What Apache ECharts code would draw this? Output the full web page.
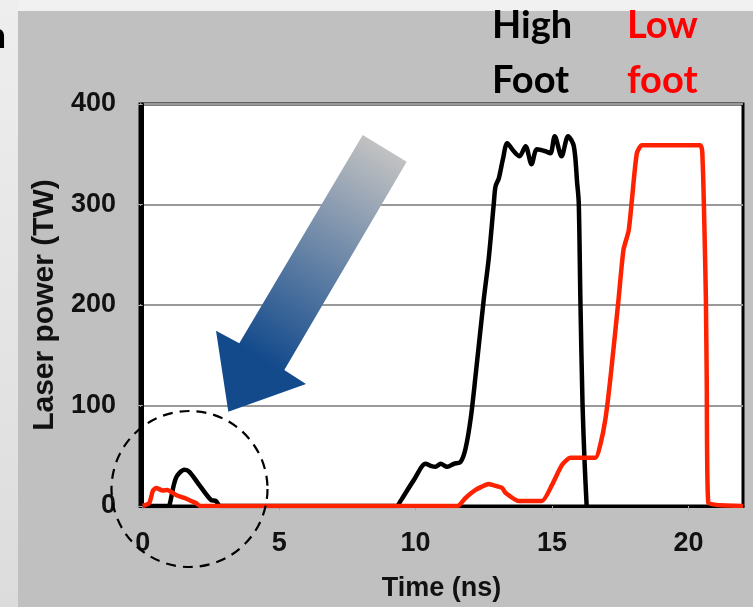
<!DOCTYPE html>
<html><head><meta charset="utf-8">
<script src="https://cdn.jsdelivr.net/npm/echarts@6/dist/echarts.min.js"></script>
<style>html,body{margin:0;padding:0;}#c{width:753px;height:607px;}</style>
</head><body><div id="c"></div>
<script>
// Time (ns) / Laser power (TW)
const highFootT = [0,0.95,1.0,1.22,1.53,1.71,2.07,2.5,2.68,2.85,9.3,9.45,9.52,9.94,10.37,10.55,10.73,10.92,11.16,11.4,11.65,11.83,12.02,12.2,12.5,12.68,12.87,12.93,13.05,13.2,13.36,13.6,13.81,14.03,14.25,14.45,14.76,14.94,15.1,15.35,15.59,15.8,15.92,15.98,16.04,16.12,16.2,16.27];
const highFootP = [0,0,3,28,36,34,21,6,5,0,0,5,8,26,42,40,39,42,39,42,44,57,87,130,206,246,302,318,326,345,361,353,348,358,340,355,353,351,368,348,368,358,322,302,206,100,40,0];
const lowFootT = [0,0.24,0.37,0.49,0.73,0.9,1.22,1.53,1.77,1.95,2.1,11.53,11.83,12.2,12.57,12.69,12.81,13.17,13.3,13.78,14.63,15.0,15.37,15.68,16.59,16.77,16.96,17.14,17.44,17.62,17.81,17.93,18.11,18.3,20.43,20.52,20.59,20.64,20.67,20.73,22];
const lowFootP = [0,3,15,18,15.5,16,11,8,5,3,0,0,8,16,21,22,21,18,13,5,5,21,41,48,48,61,87,127,206,255,274,305,351,359,359,343,272,206,127,3,0];
const xTicks = [0,5,10,15,20];
const yTicks = [0,100,200,300,400];

const pair = (t,p) => t.map((v,i)=>[v,p[i]]);
const chart = echarts.init(document.getElementById('c'));
const lbl = {fontFamily:'Liberation Sans', fontWeight:'bold', fontSize:27, color:'#111'};
chart.setOption({
  backgroundColor:'#c0c0c0',
  animation:false,
  grid:{left:140, top:104, width:603, height:404, show:true, backgroundColor:'#fff', borderColor:'#000', borderWidth:3},
  xAxis:{type:'value', min:-0.1, max:22,
    name:'Time (ns)', nameLocation:'middle', nameGap:69,
    nameTextStyle:Object.assign({}, lbl),
    axisLine:{show:true, lineStyle:{color:'#000', width:3}},
    axisTick:{show:true, customValues:xTicks, length:5, lineStyle:{color:'#aaa', width:1}},
    axisLabel:Object.assign({customValues:xTicks, margin:24}, lbl),
    splitLine:{show:false}},
  yAxis:{type:'value', min:0, max:400, interval:100,
    name:'Laser power (TW)', nameLocation:'middle', nameGap:80,
    nameTextStyle:Object.assign({}, lbl, {fontSize:30}),
    axisLine:{show:true, lineStyle:{color:'#000', width:3}},
    axisTick:{show:true, length:6, lineStyle:{color:'#aaa', width:1}},
    axisLabel:Object.assign({margin:24}, lbl),
    splitLine:{show:true, lineStyle:{color:'#999', width:2}}},
  series:[
    {type:'line', name:'High Foot', data:pair(highFootT,highFootP), showSymbol:false, smooth:0.3,
     lineStyle:{color:'#000', width:4.5}, z:3},
    {type:'line', name:'Low foot', data:pair(lowFootT,lowFootP), showSymbol:false, smooth:0.2,
     lineStyle:{color:'#ff2200', width:4.5}, z:4}
  ],
  graphic:[
    {type:'rect', shape:{x:0,y:0,width:753,height:11}, style:{fill:'#f1f1f1'}, z:50},
    {type:'rect', shape:{x:0,y:0,width:18,height:607}, style:{fill:new echarts.graphic.LinearGradient(0,0,0,1,[{offset:0,color:'#eeeeee'},{offset:1,color:'#dcdcdc'}])}, z:50},
    {type:'text', x:6, y:54, style:{text:'n', textAlign:'right', textVerticalAlign:'bottom', font:'bold 36px Lato', fill:'#000'}, z:60},
    {type:'text', x:492, y:-2, style:{text:'High\nFoot', font:'bold 38px Lato', lineHeight:55, fill:'#000'}, z:60},
    {type:'text', x:627, y:-2, style:{text:'Low\nfoot', font:'bold 38px Lato', lineHeight:55, fill:'#ff0000'}, z:60},
    {type:'polygon', shape:{points:[[362.7,135],[406.7,161.7],[284.3,370],[306,384],[228.3,411.7],[216,330.7],[239.3,343.3]]},
     style:{fill:new echarts.graphic.LinearGradient(385,148,255,355,[{offset:0,color:'#c2c2c2'},{offset:1,color:'#134a8c'}],true)}, z:60},
    {type:'circle', shape:{cx:189.5, cy:489, r:78}, style:{fill:null, stroke:'#000', lineWidth:2.2, lineDash:[10,7]}, z:61}
  ]
});
</script></body></html>
